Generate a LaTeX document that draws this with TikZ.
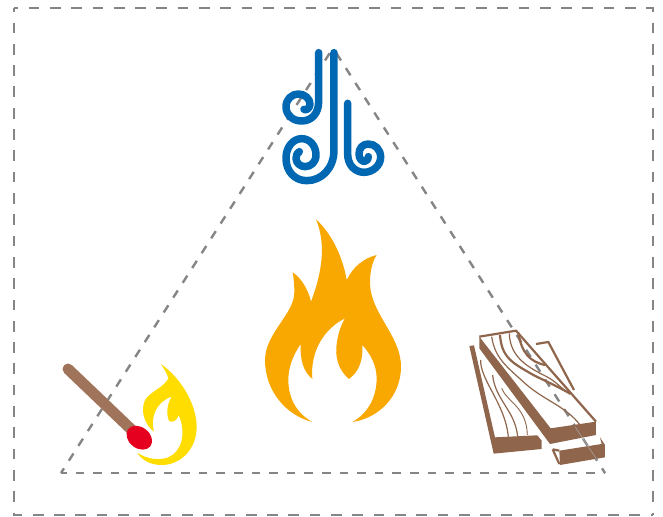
\documentclass[tikz,border=0pt]{standalone}
\definecolor{dashgray}{HTML}{858585}
\definecolor{windblue}{HTML}{0068B2}
\definecolor{flameorange}{HTML}{F8A800}
\definecolor{flameyellow}{HTML}{FFDD00}
\definecolor{woodbrown}{HTML}{8F664C}
\definecolor{stickbrown}{HTML}{A0745A}
\definecolor{matchred}{HTML}{E60020}
\tikzset{
  framedash/.style={draw=dashgray,line width=2.8pt,dash pattern=on 10.7pt off 10.6pt,dash phase=6.7pt},
  tridash/.style={draw=dashgray,line width=2.4pt,dash pattern=on 8.5pt off 9.1pt,dash phase=3pt},
  windline/.style={draw=windblue,line width=7.5pt,line cap=round,line join=round},
  grain/.style={draw=woodbrown,line width=1.2pt},
  woodedge/.style={draw=woodbrown,line width=2.2pt,line join=miter},
}
\begin{document}
\begin{tikzpicture}[x=1pt,y=-1pt]
\useasboundingbox (0,0) rectangle (663,516);
\fill[white] (0,0) rectangle (663,516);
\coordinate (frameTL) at (14,8);
\coordinate (frameTR) at (653,8);
\coordinate (frameBR) at (653,515);
\coordinate (frameBL) at (14,515);
\draw[framedash] (frameTL) -- (frameTR) -- (frameBR);
\draw[framedash] (frameTL) -- (frameBL) -- (frameBR);
\coordinate (apex) at (333,48);
\coordinate (left) at (61,473);
\coordinate (right) at (605,473);
\draw[tridash] (left) -- (right);
\draw[tridash] (left) -- (apex);
\draw[tridash] (right) -- (apex);

% wind
\begin{scope}[shift={(260,30)},x=0.3333pt,y=-0.3333pt]
\draw[windline] (176,68) -- (176,215) .. controls (176,250) and (155,273) .. (125,273)
  .. controls (98,273) and (78,255) .. (78,230) .. controls (78,208) and (95,192) .. (115,192)
  .. controls (135,192) and (150,207) .. (150,222) .. controls (150,235) and (138,243) .. (132,238);
\draw[windline] (222,68) -- (222,360) .. controls (222,415) and (185,452) .. (140,452)
  .. controls (105,452) and (78,425) .. (78,385) .. controls (78,350) and (100,326) .. (125,326)
  .. controls (150,326) and (168,348) .. (168,375) .. controls (168,397) and (152,410) .. (135,410)
  .. controls (120,410) and (108,398) .. (108,385) .. controls (108,375) and (112,368) .. (118,365);
\draw[windline] (263,220) -- (263,372) .. controls (263,405) and (285,427) .. (312,427)
  .. controls (340,427) and (362,405) .. (362,382) .. controls (362,358) and (345,342) .. (325,342)
  .. controls (308,342) and (297,355) .. (297,372) .. controls (297,385) and (305,396) .. (315,394)
  .. controls (322,393) and (326,385) .. (325,380);
\end{scope}

% big flame
\begin{scope}[shift={(255,210)},x=0.3333pt,y=-0.3333pt]
\fill[flameorange] (172,636)
  .. controls (90,615) and (30,540) .. (30,450)
  .. controls (30,370) and (120,310) .. (118,245)
  .. controls (118,220) and (116,205) .. (113,187)
  .. controls (140,205) and (160,240) .. (168,275)
  .. controls (200,190) and (215,105) .. (183,28)
  .. controls (235,75) and (265,150) .. (275,210)
  .. controls (295,170) and (325,145) .. (365,135)
  .. controls (345,165) and (340,220) .. (350,255)
  .. controls (370,330) and (438,390) .. (438,470)
  .. controls (438,560) and (370,625) .. (292,636)
  .. controls (340,610) and (365,560) .. (365,505)
  .. controls (365,465) and (345,430) .. (322,405)
  .. controls (325,450) and (312,485) .. (282,507)
  .. controls (250,480) and (238,440) .. (246,395)
  .. controls (250,370) and (258,345) .. (270,325)
  .. controls (210,355) and (165,420) .. (172,507)
  .. controls (145,485) and (135,450) .. (137,402)
  .. controls (115,435) and (100,470) .. (100,510)
  .. controls (100,565) and (125,610) .. (172,636) -- cycle;
\end{scope}

% small flame + match
\begin{scope}[shift={(50,350)},x=0.3333pt,y=-0.3333pt]
\fill[flameyellow] (333,42)
  .. controls (400,90) and (440,170) .. (440,230)
  .. controls (440,300) and (390,345) .. (335,345)
  .. controls (300,345) and (275,330) .. (262,308)
  .. controls (290,328) and (330,332) .. (355,322)
  .. controls (395,305) and (410,250) .. (386,195)
  .. controls (382,210) and (370,218) .. (358,214)
  .. controls (348,195) and (350,165) .. (365,140)
  .. controls (320,155) and (300,200) .. (312,245)
  .. controls (285,225) and (270,185) .. (285,150)
  .. controls (300,125) and (345,110) .. (355,85)
  .. controls (352,70) and (340,55) .. (333,42) -- cycle;
\end{scope}
\coordinate (stickA) at (68,369);
\coordinate (stickB) at (134,432);
\draw[stickbrown,line width=11pt,line cap=round] (stickA) -- (stickB);
\fill[matchred,rotate around={-38:(139.3,437.7)}] (139.3,437.7) ellipse (14pt and 10.5pt);

% wood
\begin{scope}[shift={(450,320)},x=0.3333pt,y=-0.3333pt]
\fill[woodbrown] (88,50) -- (302,325) -- (438,305) -- (438,345) -- (300,372) -- (88,85) -- cycle;
\draw[woodedge] (88,50) -- (198,32) -- (438,305);
\fill[woodbrown] (58,78) -- (72,76) -- (135,352) -- (262,346) -- (275,362) -- (275,387) -- (131,401) -- cycle;
\draw[woodedge] (258,72) -- (295,66) -- (372,210);
\fill[woodbrown] (328,392) -- (455,372) -- (450,352) -- (465,375) -- (465,412) -- (330,435) -- cycle;
\draw[woodedge] (308,388) -- (328,392) (308,388) -- (328,432);
\draw[grain] (125,50) .. controls (135,115) and (170,140) .. (225,190) .. controls (280,240) and (350,260) .. (390,315);
\draw[woodedge] (150,45) .. controls (155,115) and (190,130) .. (250,165) .. controls (290,185) and (325,200) .. (362,222);
\draw[grain] (178,40) .. controls (180,110) and (230,140) .. (290,170) .. controls (310,180) and (325,195) .. (345,212);
\draw[woodedge] (205,38) .. controls (215,100) and (240,125) .. (285,135);
\draw[grain] (92,120) .. controls (90,180) and (165,250) .. (175,350);
\draw[grain] (128,165) .. controls (135,240) and (195,270) .. (203,350);
\draw[grain,line width=0.9pt] (155,205) .. controls (170,245) and (230,260) .. (232,345);
\draw[dashgray!70!white,line width=0.5pt] (375,320) -- (440,418);
\end{scope}
\end{tikzpicture}
\end{document}
